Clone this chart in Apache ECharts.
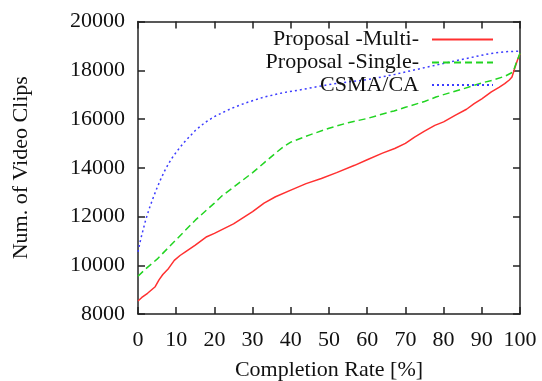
<!DOCTYPE html>
<html>
<head>
<meta charset="utf-8">
<script src="https://cdn.jsdelivr.net/npm/echarts@6/dist/echarts.min.js"></script>
<style>
  html, body { margin: 0; padding: 0; background: #fff; }
  #chart { width: 542px; height: 381px; }
</style>
</head>
<body>
<div id="chart"></div>
<script>
// data: completion rate [%] vs number of video clips
var multiRate = [0, 1, 2.5, 4.5, 5.5, 6.5, 8, 9.5, 11, 12.5, 15, 18, 20, 25, 30, 33, 36, 40, 44, 48, 52, 56.7, 60, 64, 67.2, 70, 72.4, 75, 77.7, 80, 83, 86, 88, 90, 92.5, 94.5, 96, 97.2, 97.9, 98.6, 99.3, 100];
var multiClips = [8530, 8680, 8850, 9120, 9400, 9620, 9870, 10200, 10400, 10560, 10830, 11170, 11310, 11700, 12200, 12550, 12810, 13080, 13350, 13560, 13800, 14100, 14330, 14600, 14790, 15000, 15260, 15500, 15740, 15880, 16150, 16400, 16630, 16830, 17110, 17300, 17450, 17600, 17720, 18070, 18400, 18680];

var singleRate = [0, 2, 5, 10, 15, 20, 22, 25, 30, 33, 36, 38, 40, 45, 50, 55, 60, 65, 67, 70, 75, 78, 80, 85, 88, 90, 93, 96, 98.2, 99, 100];
var singleClips = [9550, 9850, 10250, 11050, 11850, 12550, 12850, 13200, 13800, 14200, 14600, 14850, 15050, 15350, 15620, 15850, 16020, 16250, 16330, 16480, 16720, 16900, 17000, 17230, 17380, 17480, 17600, 17750, 17930, 18300, 18700];

var csmaRate = [0, 0.5, 1, 2, 3, 4, 5, 6, 7, 8, 9, 10, 12, 15, 17.5, 20, 24.4, 28, 33, 38, 42, 46, 50.6, 55, 59.3, 63, 67.2, 72, 77.7, 82, 88, 92, 96, 100];
var csmaClips = [10550, 10920, 11250, 11850, 12350, 12780, 13180, 13550, 13880, 14170, 14420, 14640, 15030, 15530, 15850, 16100, 16430, 16650, 16900, 17080, 17180, 17300, 17430, 17520, 17600, 17700, 17830, 18000, 18200, 18350, 18550, 18680, 18760, 18780];

var seriesNames = ['Proposal -Multi-', 'Proposal -Single-', 'CSMA/CA'];

function pairs(xs, ys) {
  var out = [];
  for (var i = 0; i < xs.length; i++) out.push([xs[i], ys[i]]);
  return out;
}

var chart = echarts.init(document.getElementById('chart'));
var font = 'Liberation Serif';
var txt = { color: '#111', fontFamily: font, fontSize: 22 };

// frame axes: bottom/left carry labels, top/right are mirror ticks only
function frameAxis(extra) {
  return Object.assign({
    type: 'value',
    axisLine: { show: true, onZero: false, lineStyle: { color: '#222', width: 1.5 } },
    axisTick: { show: true, inside: true, length: 7, lineStyle: { color: '#222', width: 1.5 } },
    splitLine: { show: false }
  }, extra);
}

// one legend per row so the icons line up at the right
function legendRow(name, top) {
  return {
    data: [name], orient: 'vertical', right: 48, top: top,
    align: 'right', padding: 0, itemWidth: 61, itemHeight: 14,
    // hide the symbol that line series put in the middle of the legend line
    itemStyle: { opacity: 0, color: 'transparent', borderColor: 'transparent', borderWidth: 0 },
    textStyle: { color: '#111', fontFamily: font, fontSize: 22, lineHeight: 22, padding: [0, 8, 0, 0] },
    selectedMode: false
  };
}

var option = {
  animation: false,
  grid: { left: 138, right: 22, top: 21.5, bottom: 67, containLabel: false, outerBoundsMode: 'none' },
  legend: [legendRow(seriesNames[0], 28.5), legendRow(seriesNames[1], 51.5), legendRow(seriesNames[2], 74)],
  xAxis: [
    frameAxis({
      position: 'bottom', min: 0, max: 100, interval: 10,
      name: 'Completion Rate [%]', nameLocation: 'middle', nameGap: 45,
      nameTextStyle: txt,
      axisLabel: Object.assign({ margin: 15, formatter: function (v) { return String(v); } }, txt)
    }),
    frameAxis({ position: 'top', min: 0, max: 100, interval: 10, axisLabel: { show: false } })
  ],
  yAxis: [
    frameAxis({
      position: 'left', min: 8000, max: 20000, interval: 2000,
      name: 'Num. of Video Clips', nameLocation: 'middle', nameGap: 106, nameRotate: 90,
      nameTextStyle: txt,
      axisLabel: Object.assign({ margin: 13, formatter: function (v) { return String(v); } }, txt)
    }),
    frameAxis({ position: 'right', min: 8000, max: 20000, interval: 2000, axisLabel: { show: false } })
  ],
  series: [
    {
      name: seriesNames[0], type: 'line', data: pairs(multiRate, multiClips),
      showSymbol: false, symbol: 'none', color: '#ff3030',
      lineStyle: { color: '#ff3030', width: 1.5, type: 'solid' }
    },
    {
      name: seriesNames[1], type: 'line', data: pairs(singleRate, singleClips),
      showSymbol: false, symbol: 'none', color: '#22d422',
      lineStyle: { color: '#22d422', width: 1.5, type: [7, 4] }
    },
    {
      name: seriesNames[2], type: 'line', data: pairs(csmaRate, csmaClips),
      showSymbol: false, symbol: 'none', color: '#3c3cff',
      lineStyle: { color: '#3c3cff', width: 1.5, type: [2, 3] }
    }
  ]
};

chart.setOption(option);
</script>
</body>
</html>
